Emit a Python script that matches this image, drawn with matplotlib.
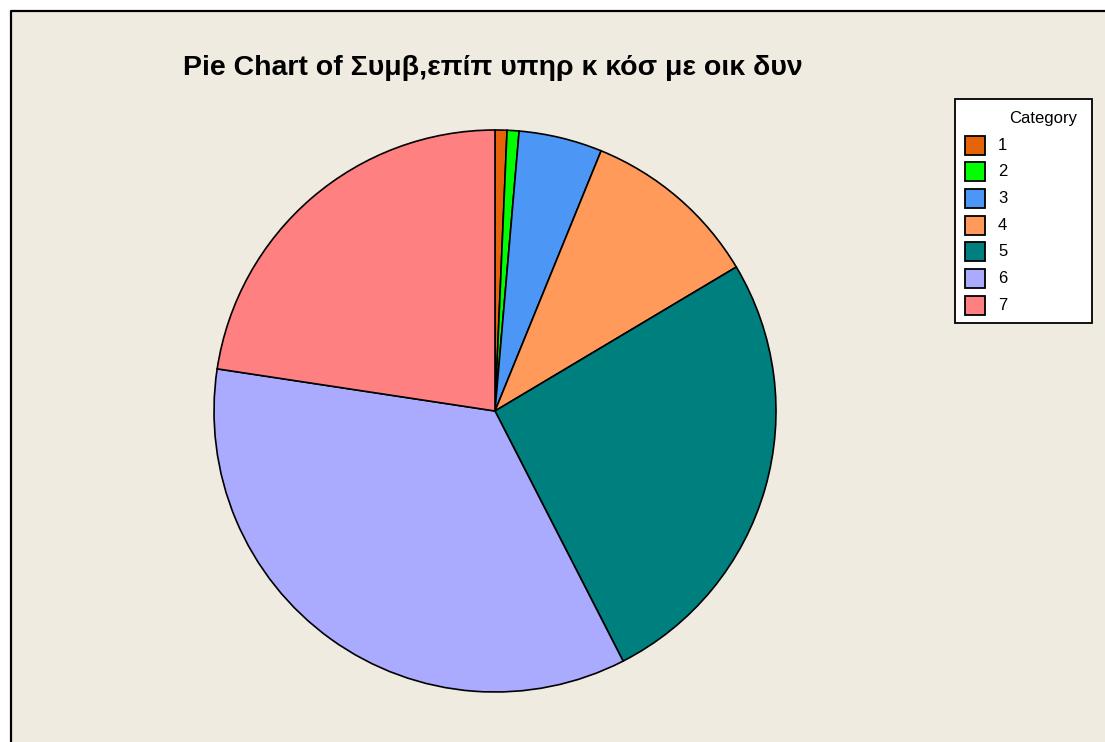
import matplotlib.pyplot as plt
import matplotlib as mpl
from matplotlib.patches import Rectangle
from matplotlib.lines import Line2D

mpl.rcParams["font.family"] = ["Liberation Sans", "DejaVu Sans"]

# data (counts)
categories = ["1", "2", "3", "4", "5", "6", "7"]
counts = [1, 1, 7, 15, 38, 51, 33]
colors = ["#E5640A", "#00FF00", "#4C96F5", "#FF9A5A", "#007F7F", "#AAAAFF", "#FF8080"]
title = "Pie Chart of Συμβ,επίπ υπηρ κ κόσ με οικ δυν"

W, H = 1105, 742
fig = plt.figure(figsize=(W / 100, H / 100), dpi=100, facecolor="white")

# beige panel with black left/top border (drawn in a background axes)
bg_ax = fig.add_axes([0, 0, 1, 1], zorder=-5)
bg_ax.set_xlim(0, W)
bg_ax.set_ylim(H, 0)
bg_ax.axis("off")
bg_ax.add_patch(Rectangle((11, 11), W, H, facecolor="#EFEBE1", edgecolor="none"))
bg_ax.plot([11, 11, W], [H, 11, 11], color="black", lw=1.6)

# pie axes: centre (495, 411) px, radius 281 px
cx, cy, r = 495, 411, 281
ax = fig.add_axes([(cx - r) / W, (H - cy - r) / H, 2 * r / W, 2 * r / H])
ax.pie(counts, colors=colors, startangle=90, counterclock=False,
       wedgeprops=dict(edgecolor="black", linewidth=1.2))
ax.set_xlim(-1, 1)
ax.set_ylim(-1, 1)
ax.axis("off")

fig.text(493 / W, 1 - 68 / H, title, ha="center", va="center",
         fontsize=20.5, fontweight="bold")

# legend box, drawn by hand to match the framed layout
lx0, ly0, lx1, ly1 = 955, 99, 1092, 323
leg_ax = fig.add_axes([0, 0, 1, 1], zorder=5)
leg_ax.set_xlim(0, W)
leg_ax.set_ylim(H, 0)
leg_ax.axis("off")
leg_ax.add_patch(Rectangle((lx0, ly0), lx1 - lx0, ly1 - ly0, facecolor="white",
                           edgecolor="black", lw=1.3))
leg_ax.text(1043, 119, "Category", ha="center", va="center", fontsize=12)
row0, step = 145, 26.7
for i, (lab, col) in enumerate(zip(categories, colors)):
    y = row0 + i * step
    leg_ax.add_patch(Rectangle((965, y - 9.5), 20, 19, facecolor=col,
                               edgecolor="black", lw=1.3))
    leg_ax.text(998, y, lab, ha="left", va="center", fontsize=12)

fig.savefig("out.png", dpi=100, facecolor="white")
